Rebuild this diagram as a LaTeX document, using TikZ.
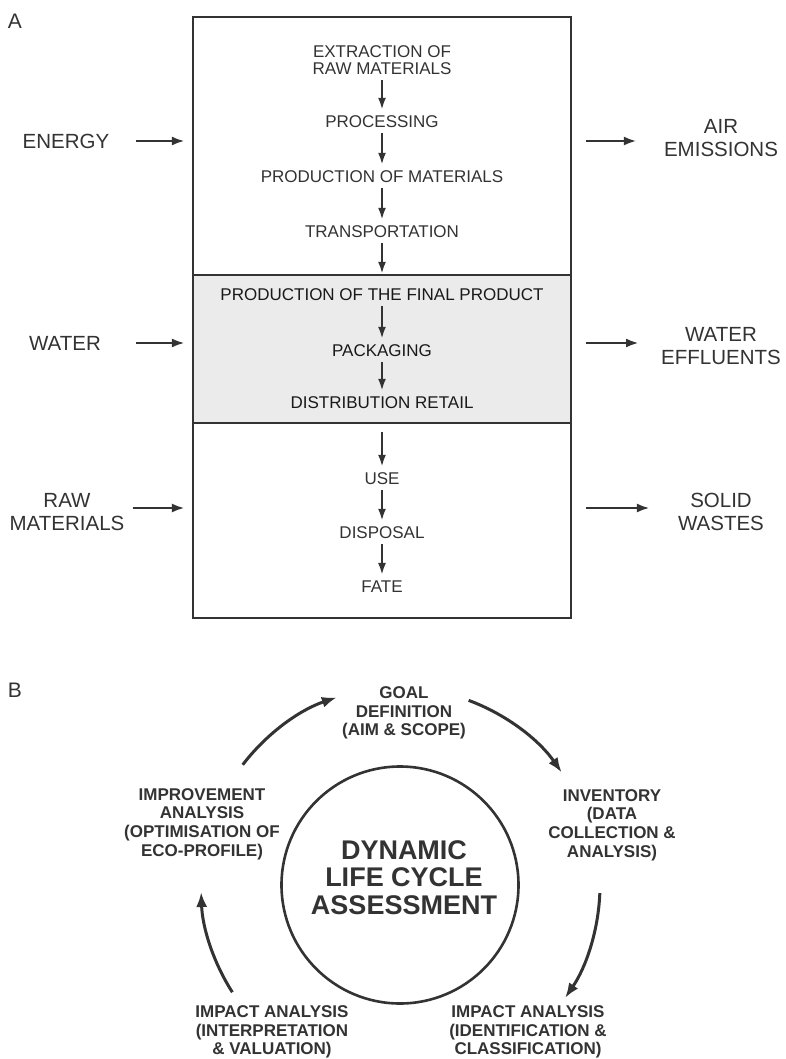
\documentclass[tikz,border=0pt]{standalone}
\usepackage{fontspec}
\setmainfont{Liberation Sans}
\usetikzlibrary{arrows.meta}
\definecolor{ink}{gray}{0.2}
\definecolor{shade}{gray}{0.92}
\tikzset{
  innertxt/.style={font=\fontsize{17}{17}\selectfont, text=ink, inner sep=0pt, align=center},
  outertxt/.style={font=\fontsize{20.5}{23}\selectfont, text=ink, inner sep=0pt, align=center},
  flowarrow/.style={-{Latex[length=12pt,width=8pt]}, line width=2.2pt, draw=ink, shorten <=5pt, shorten >=6pt},
  sidearrow/.style={-{Latex[length=13pt,width=9pt]}, line width=2.6pt, draw=ink},
  section/.style={draw=ink, line width=2.2pt, minimum width=378pt, inner sep=0pt},
  cyctxt/.style={font=\bfseries\fontsize{17}{18.7}\selectfont, text=ink, inner sep=0pt, align=center},
  cycarrow/.style={-{Latex[length=15pt,width=11pt]}, line width=3pt, draw=ink},
  paneltag/.style={font=\fontsize{21}{21}\selectfont, text=ink, inner sep=0pt}
}
\begin{document}
\begin{tikzpicture}[x=1pt,y=1pt]
\fill[white] (0,0) rectangle (786,-1059);
\useasboundingbox (0,0) rectangle (786,-1059);

% ---------- Panel A ----------
\node[paneltag] (tagA) at (15,-21) {A};

\node[section, minimum height=258pt] (s1) at (382,-146) {};
\node[section, fill=shade, minimum height=148pt] (s2) at (382,-349) {};
\node[section, minimum height=195pt] (s3) at (382,-520.5) {};

\node[innertxt] (e1) at (382,-60.5) {EXTRACTION OF\\RAW MATERIALS};
\node[innertxt] (e2) at (382,-122) {PROCESSING};
\node[innertxt] (e3) at (382,-177) {PRODUCTION OF MATERIALS};
\node[innertxt] (e4) at (382,-232) {TRANSPORTATION};

\node[innertxt, text=black!90] (m1) at (382,-295) {PRODUCTION OF THE FINAL PRODUCT};
\node[innertxt, text=black!90] (m2) at (382,-351) {PACKAGING};
\node[innertxt, text=black!90] (m3) at (382,-403) {DISTRIBUTION RETAIL};

\node[innertxt] (u1) at (382,-479) {USE};
\node[innertxt] (u2) at (382,-533) {DISPOSAL};
\node[innertxt] (u3) at (382,-587) {FATE};

\draw[flowarrow] (e1) -- (e2);
\draw[flowarrow] (e2) -- (e3);
\draw[flowarrow] (e3) -- (e4);
\draw[flowarrow, shorten >=0pt] (e4) -- (e4 |- s2.north);
\draw[flowarrow] (m1) -- (m2);
\draw[flowarrow] (m2) -- (m3);
\draw[flowarrow, shorten <=10pt] (u1 |- s3.north) -- (u1);
\draw[flowarrow] (u1) -- (u2);
\draw[flowarrow] (u2) -- (u3);

\node[outertxt] (energy) at (66,-141) {ENERGY};
\node[outertxt] (water) at (65,-343) {WATER};
\node[outertxt] (raw) at (67,-512) {RAW\\MATERIALS};

\node[outertxt] (air) at (721,-138.5) {AIR\\EMISSIONS};
\node[outertxt] (effl) at (721,-346) {WATER\\EFFLUENTS};
\node[outertxt] (solid) at (721,-512) {SOLID\\WASTES};

\draw[sidearrow, shorten <=27pt, shorten >=7pt] (energy.east) -- (energy.east -| s1.west);
\draw[sidearrow, shorten <=14pt, shorten >=27pt] (s1.east |- energy) -- (air.west |- energy);
\draw[sidearrow, shorten <=35pt, shorten >=7pt] (water.east) -- (water.east -| s2.west);
\draw[sidearrow, shorten <=14pt, shorten >=22pt] (s2.east |- water) -- (effl.west |- water);
\draw[sidearrow, shorten <=8pt, shorten >=7pt] ([yshift=4pt]raw.east) -- ([yshift=4pt]raw.east -| s3.west);
\draw[sidearrow, shorten <=14pt, shorten >=28pt] ([yshift=4pt]s3.east |- raw) -- ([yshift=4pt]solid.west |- raw);

% ---------- Panel B ----------
\node[paneltag] (tagB) at (15,-690) {B};

\node[circle, draw=ink, line width=2.6pt, minimum size=237pt, inner sep=0pt] (lca) at (400,-885) {};
\node[font=\bfseries\fontsize{27}{27.5}\selectfont, text=ink, align=center, inner sep=0pt] (lcatext) at (404,-877.5) {DYNAMIC\\LIFE CYCLE\\ASSESSMENT};

\node[cyctxt] (goal) at (404,-713) {GOAL\\DEFINITION\\(AIM \& SCOPE)};
\node[cyctxt] (inv) at (612,-825) {INVENTORY\\(DATA\\COLLECTION \&\\ANALYSIS)};
\node[cyctxt] (impr) at (202,-824) {IMPROVEMENT\\ANALYSIS\\(OPTIMISATION OF\\ECO-PROFILE)};
\node[cyctxt] (iaL) at (272,-1032) {IMPACT ANALYSIS\\(INTERPRETATION\\\& VALUATION)};
\node[cyctxt] (iaR) at (528,-1032) {IMPACT ANALYSIS\\(IDENTIFICATION \&\\CLASSIFICATION)};

\draw[cycarrow] ([shift={(142.6:198pt)}]lca.center) arc[start angle=142.6, end angle=108.6, radius=198pt];
\draw[cycarrow] ([shift={(69.6:197pt)}]lca.center) arc[start angle=69.6, end angle=34.8, radius=197pt];
\draw[cycarrow] ([shift={(-2.3:200pt)}]lca.center) arc[start angle=-2.3, end angle=-34.4, radius=200pt];
\draw[cycarrow] ([shift={(212.6:199pt)}]lca.center) arc[start angle=212.6, end angle=182, radius=199pt];
\end{tikzpicture}
\end{document}
